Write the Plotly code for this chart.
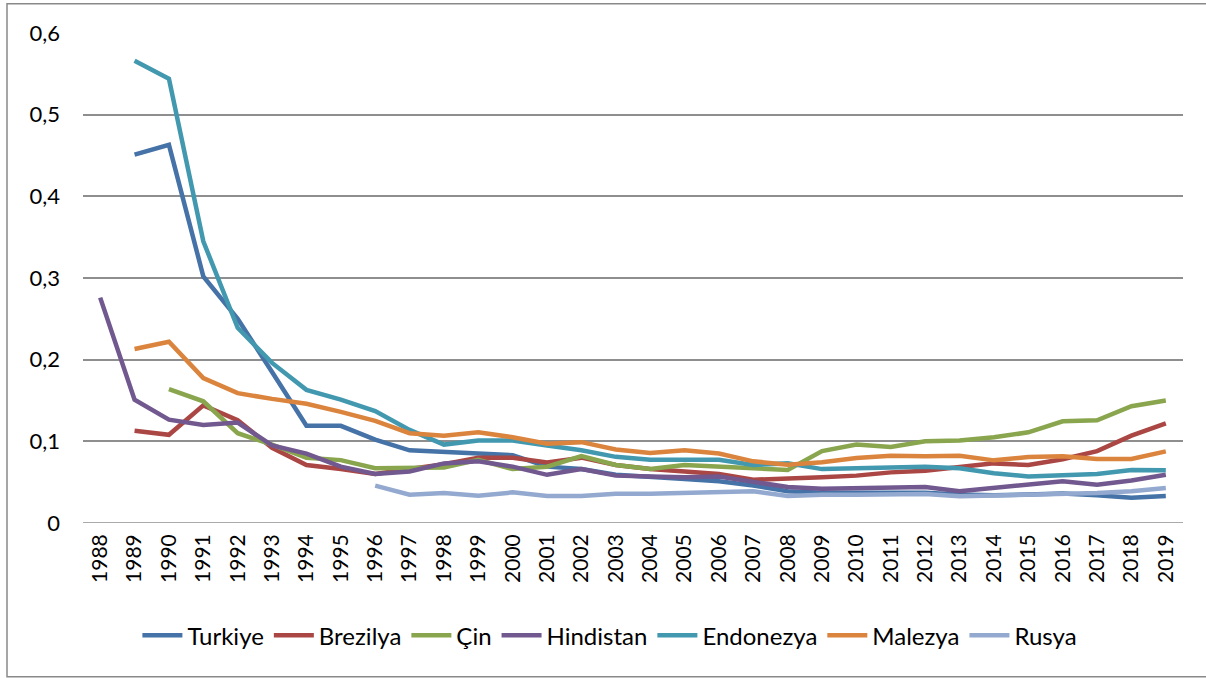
import plotly.graph_objects as go

years = [str(y) for y in range(1988, 2020)]

turkiye = [None, 0.451, 0.463, 0.302, 0.25, 0.185, 0.119, 0.119, 0.102, 0.089, 0.087, 0.084, 0.083,
           0.069, 0.066, 0.059, 0.057, 0.054, 0.051, 0.046, 0.039, 0.037, 0.037, 0.037, 0.037, 0.035,
           0.034, 0.035, 0.036, 0.034, 0.031, 0.033]
brezilya = [None, 0.113, 0.108, 0.144, 0.126, 0.092, 0.071, 0.066, 0.060, 0.066, 0.072, 0.080, 0.080,
            0.074, 0.080, 0.071, 0.066, 0.063, 0.060, 0.053, 0.054, 0.056, 0.058, 0.062, 0.064, 0.069,
            0.073, 0.071, 0.078, 0.088, 0.107, 0.122]
cin = [None, None, 0.164, 0.149, 0.110, 0.096, 0.080, 0.077, 0.067, 0.067, 0.068, 0.0775, 0.066,
       0.069, 0.082, 0.071, 0.066, 0.071, 0.069, 0.067, 0.065, 0.088, 0.096, 0.093, 0.100, 0.101,
       0.105, 0.111, 0.1245, 0.1257, 0.143, 0.150]
hindistan = [0.276, 0.151, 0.1265, 0.120, 0.123, 0.095, 0.085, 0.069, 0.060, 0.063, 0.073, 0.0755, 0.069,
             0.059, 0.066, 0.058, 0.057, 0.056, 0.057, 0.051, 0.044, 0.042, 0.043, 0.043, 0.044, 0.039,
             0.043, 0.047, 0.051, 0.047, 0.052, 0.059]
endonezya = [None, 0.566, 0.544, 0.345, 0.239, 0.196, 0.163, 0.151, 0.137, 0.114, 0.096, 0.101, 0.101,
             0.095, 0.089, 0.081, 0.0775, 0.0775, 0.0775, 0.071, 0.073, 0.066, 0.067, 0.069, 0.069, 0.067,
             0.061, 0.057, 0.058, 0.060, 0.065, 0.0645]
malezya = [None, 0.213, 0.222, 0.1775, 0.159, 0.152, 0.146, 0.136, 0.125, 0.110, 0.107, 0.111, 0.105,
           0.097, 0.099, 0.090, 0.0856, 0.089, 0.085, 0.0755, 0.0714, 0.0743, 0.0796, 0.0824, 0.0816, 0.0824,
           0.0767, 0.0808, 0.0816, 0.0784, 0.0784, 0.0877]
rusya = [None] * 8 + [0.0457, 0.0347, 0.0367, 0.0335, 0.0375, 0.033, 0.033, 0.0359, 0.0359, 0.0367,
                      0.0375, 0.0388, 0.033, 0.0347, 0.0347, 0.0347, 0.0355, 0.0327, 0.0335, 0.0347,
                      0.0359, 0.0367, 0.0388, 0.0428]

series_names = ["Turkiye", "Brezilya", "Çin", "Hindistan", "Endonezya", "Malezya", "Rusya"]
series_values = [turkiye, brezilya, cin, hindistan, endonezya, malezya, rusya]
colors = ["#4572A7", "#AA4643", "#89A54E", "#71588F", "#4198AF", "#DB843D", "#93A9CF"]

y_tickvals = [0, 0.1, 0.2, 0.3, 0.4, 0.5, 0.6]
y_ticktext = ["0", "0,1", "0,2", "0,3", "0,4", "0,5", "0,6"]

FONT = "Lato, 'Open Sans', Arial, sans-serif"

fig = go.Figure()
for name, vals, col in zip(series_names, series_values, colors):
    fig.add_trace(go.Scatter(
        x=years, y=vals, name=name, mode="lines",
        line=dict(color=col, width=4.5),
        connectgaps=False,
    ))

fig.update_layout(
    template="none",
    width=1206, height=678,
    margin=dict(l=83, r=23, t=33, b=155, autoexpand=False),
    paper_bgcolor="white", plot_bgcolor="white",
    font=dict(family=FONT, color="black", size=20),
    showlegend=True,
    legend=dict(orientation="h", x=0.479, xanchor="center", y=-0.23, yanchor="middle",
                font=dict(size=24, family=FONT, color="black"), itemwidth=40, tracegroupgap=0,
                bgcolor="rgba(0,0,0,0)"),
    xaxis=dict(type="category", tickangle=-90, showgrid=False, zeroline=False,
               range=[-0.5, len(years) - 0.5], automargin=False,
               showline=False, ticks="", tickfont=dict(size=21, family=FONT, color="black"),
               ticklabelstandoff=6),
    yaxis=dict(range=[0, 0.6], tickvals=y_tickvals, ticktext=y_ticktext, automargin=False,
               showgrid=True, gridcolor="#8e8e8e", gridwidth=1.5, zeroline=False,
               showline=False, ticks="", tickfont=dict(size=22, family=FONT, color="black"),
               ticklabelstandoff=22),
    shapes=[
        dict(type="line", xref="paper", yref="y", x0=0, x1=1, y0=0, y1=0,
             line=dict(color="#8e8e8e", width=1.5), layer="below"),
        dict(type="rect", xref="paper", yref="paper",
             x0=(7 - 83) / 1100, x1=(1212 - 83) / 1100,
             y0=(523.3 - 677) / 490, y1=(523.3 - 4) / 490,
             line=dict(color="#898989", width=1.5), fillcolor="rgba(0,0,0,0)", layer="above"),
    ],
)

fig.write_html(
    "out.html",
    config={"displayModeBar": False},
    post_script="document.body.style.margin='0';document.body.style.padding='0';"
                "document.body.style.overflow='hidden';",
)
